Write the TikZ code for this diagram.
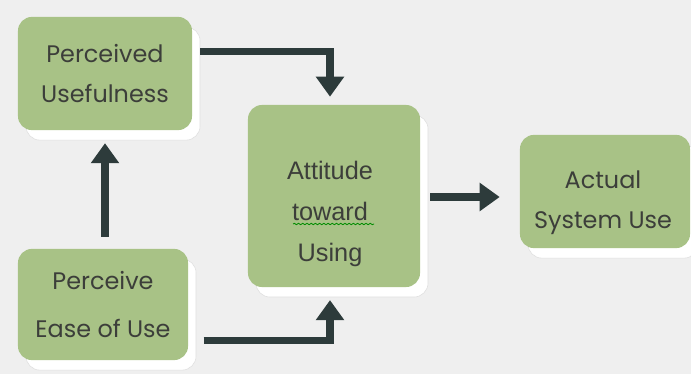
\documentclass[tikz,border=0pt]{standalone}
\usepackage{fontspec}
\newfontfamily\gothic{Poppins}
\newfontfamily\arial{Liberation Sans}
\usetikzlibrary{arrows.meta,shadows,decorations.pathmorphing}
\definecolor{boxgreen}{HTML}{A8C286}
\definecolor{arrowdark}{HTML}{2D3B3B}
\definecolor{txtgray}{HTML}{3C3E3A}
\definecolor{paper}{HTML}{EFEFEF}
\begin{document}
\begin{tikzpicture}[x=0.025cm, y=-0.025cm,
  box/.style={rectangle, rounded corners=0.35cm, fill=boxgreen, text=txtgray,
    align=center, inner sep=0pt,
    drop shadow={shadow xshift=0.2cm, shadow yshift=-0.25cm, fill=white, draw=gray!25, opacity=1}},
  lbl/.style={text=txtgray, align=center, inner sep=0pt},
  flow/.style={draw=arrowdark, line width=5pt, -{Triangle[length=0.5cm, width=0.68cm]}}]
  \fill[paper] (0,0) rectangle (691,374);
  \useasboundingbox (0,0) rectangle (691,374);
  % boxes
  \node[box, minimum width=4.35cm, minimum height=2.83cm,
    font=\gothic\fontsize{17}{28.5}\selectfont] (PU) at (105,73.5) {Perceived\\Usefulness};
  \node[box, minimum width=4.25cm, minimum height=2.78cm,
    font=\gothic\fontsize{17}{33.5}\selectfont] (PEoU) at (103,304.5) {Perceive\\Ease of Use};
  \node[box, minimum width=4.3cm, minimum height=4.55cm] (Att) at (334,196) {};
  \node[box, minimum width=4.25cm, minimum height=2.83cm] (ASU) at (605,191.5) {};
  % texts
  \node[lbl, font=\arial\fontsize{18}{29}\selectfont] (AttText) at (330,214) {Attitude\\toward\\Using};
  \node[lbl, font=\gothic\fontsize{17}{28.5}\selectfont] (ASUText) at (603,203) {Actual\\System Use};
  \draw[green!55!black, line width=0.6pt, decorate,
    decoration={snake, amplitude=0.5pt, segment length=3pt}] (293,224) -- (374,224);
  % arrows
  \draw[flow, shorten <=0.2cm, shorten >=0.2cm] ([yshift=0.54cm]PU.east) -| ([xshift=-0.1cm]Att.north);
  \draw[flow, shorten <=0.3cm, shorten >=0.32cm] (PU.south |- PEoU.north) -- (PU.south);
  \draw[flow, shorten <=0.38cm, shorten >=0.32cm] ([yshift=-0.89cm]PEoU.east) -| ([xshift=-0.1cm]Att.south);
  \draw[flow, shorten <=0.25cm, shorten >=0.5cm] (Att.east |- 0,197) -- (ASU.west |- 0,197);
\end{tikzpicture}
\end{document}
